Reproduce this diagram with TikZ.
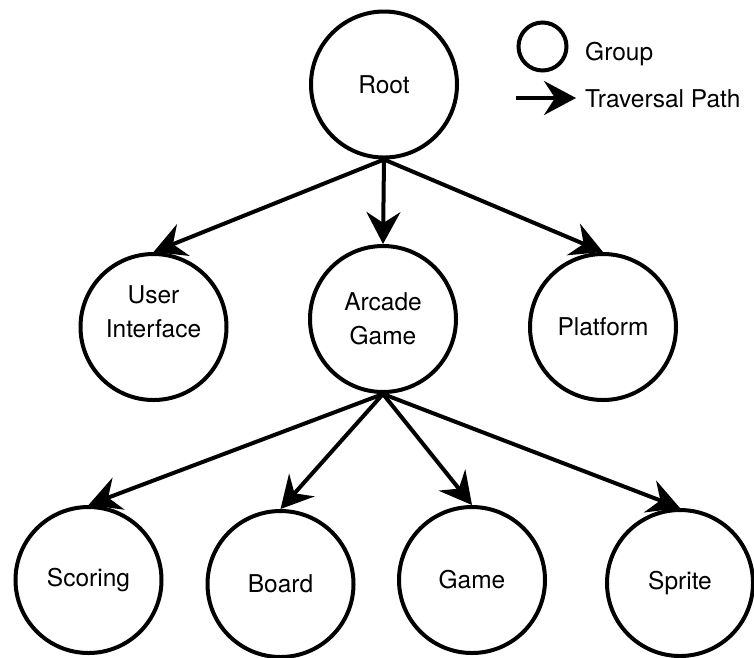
\documentclass[tikz,border=0pt]{standalone}
\usepackage{fontspec}
\setmainfont{TeX Gyre Heros}
\usetikzlibrary{arrows.meta}
\tikzset{
  grp/.style={circle, draw, line width=4pt, minimum size=146pt, inner sep=0pt,
    align=center, font=\fontsize{24.5}{34}\selectfont},
  trav/.style={line width=4pt, -{Stealth[length=32pt, width=34pt, inset=11pt]}},
  lbl/.style={anchor=base west, inner sep=0pt, font=\fontsize{24.5}{28}\selectfont}
}
\begin{document}
\begin{tikzpicture}[x=1pt, y=-1pt]
  \useasboundingbox (0,0) rectangle (754,657);

  % group hierarchy
  \node[grp] (root)     at (384,84.5) {Root};
  \node[grp, text depth=30pt] (ui) at (153.5,327) {User\\Interface};
  \node[grp] (arcade)   at (383,319) {Arcade\\Game};
  \node[grp] (platform) at (603,327) {Platform};
  \node[grp] (scoring)  at (88.5,580) {\raisebox{-4pt}{Scoring}};
  \node[grp] (board)    at (280.5,584) {Board};
  \node[grp] (game)     at (472,580) {Game};
  \node[grp] (sprite)   at (680,583) {Sprite};

  % traversal paths
  \draw[trav] (root.south) -- (ui.north);
  \draw[trav] (root.south) -- (arcade.north);
  \draw[trav] (root.south) -- (platform.north);
  \draw[trav] (arcade.south) -- (scoring.north);
  \draw[trav] (arcade.south) -- (board.north);
  \draw[trav] (arcade.south) -- (game.north);
  \draw[trav] (arcade.south) -- (sprite.north);

  % legend
  \node[circle, draw, line width=4pt, minimum size=48pt, inner sep=0pt] (keygrp) at (542.5,46.5) {};
  \node[lbl] (keygrptxt) at (585,60) {Group};
  \coordinate (keyfrom) at (516,98);
  \coordinate (keyto) at (576,98);
  \draw[trav] (keyfrom) -- (keyto);
  \node[lbl] (keytravtxt) at (585,107) {Traversal Path};
\end{tikzpicture}
\end{document}
